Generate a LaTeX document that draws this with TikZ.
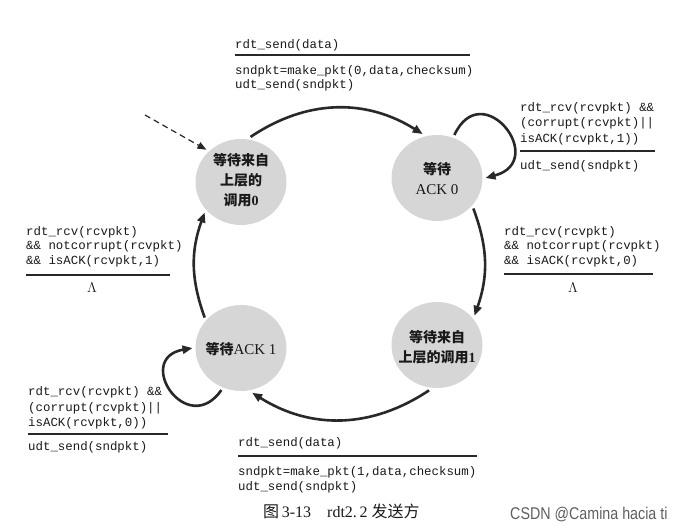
\documentclass[tikz,border=0pt]{standalone}
\usepackage{fontspec}
\setmainfont{Liberation Serif}
\setmonofont{Liberation Mono}
\setsansfont{Liberation Sans}
\newfontfamily\cjk{Noto Sans CJK SC}
\usetikzlibrary{arrows.meta,shapes.geometric}
\definecolor{ink}{RGB}{40,40,40}
\definecolor{txt}{RGB}{25,25,25}
\definecolor{statefill}{RGB}{214,214,214}
\definecolor{wmark}{RGB}{95,95,95}
\newcommand{\zhb}[1]{{\cjk\bfseries #1}}
\newcommand{\zhr}[1]{{\cjk #1}}
\begin{document}
\begin{tikzpicture}[x=1pt,y=1pt,
  state/.style={ellipse, fill=statefill, minimum width=91pt, minimum height=86pt, inner sep=0pt, outer sep=3pt},
  statetext/.style={align=center, inner sep=0pt, font=\fontsize{14}{20}\selectfont, text=txt},
  trans/.style={draw=ink, line width=2.6pt, -{Triangle[length=10pt,width=8pt]}},
  lbl/.style={anchor=base west, inner sep=0pt, text=txt},
  monoA/.style={font=\ttfamily\fontsize{12.4}{15.5}\selectfont},
  monoB/.style={font=\ttfamily\fontsize{12.4}{14.5}\selectfont},
  rulel/.style={draw=ink, line width=1.4pt}
]
\useasboundingbox (0,0) rectangle (676,527);

% states
\node[state] (S0) at (241,345) {};
\node[state] (S1) at (437,349) {};
\node[state] (S2) at (437,182) {};
\node[state] (S3) at (241,179) {};
\node[statetext] (S0t) at (241,347) {\zhb{等待来自}\\\zhb{上层的}\\\zhb{调用}\textbf{0}};
\node[statetext] (S1t) at (437,348) {\zhb{等待}\\{\fontsize{15}{20}\selectfont ACK 0}};
\node[statetext] (S2t) at (437,180) {\zhb{等待来自}\\\zhb{上层的调用}\textbf{1}};
\node[statetext] (S3t) at (241,178) {\zhb{等待}{\fontsize{15}{20}\selectfont ACK 1}};

% transitions
\draw[trans] (S0.78) to[bend left=33] (S1.108);
\draw[trans] (S1.-40) to[bend left=20] (S2.38);
\draw[trans] (S2.-100) to[bend left=33] (S3.-76);
\draw[trans] (S3.140) to[bend left=20] (S0.-140);
\draw[trans] (S1.68) to[out=65,in=15,distance=66pt] (S1.0);
\draw[trans] (S3.-115) to[out=235,in=190,distance=60pt] (S3.180);
\coordinate (init) at (145,412);
\draw[draw=ink, line width=1.2pt, dash pattern=on 6pt off 4pt, -{Triangle[length=9pt,width=7pt]}] (init) -- (S0.137);

% top label
\node[lbl,monoA] (Ta) at (235,478.5) {rdt\_send(data)};
\draw[rulel] (235,472) -- (470,472);
\node[lbl,monoB] (Tb) at (235,452.5) {\begin{tabular}[t]{@{}l@{}}sndpkt=make\_pkt(0,data,checksum)\\udt\_send(sndpkt)\end{tabular}};

% S1 self loop label
\node[lbl,monoA] (Ra) at (520,415.5) {\begin{tabular}[t]{@{}l@{}}rdt\_rcv(rcvpkt) \&\&\\(corrupt(rcvpkt)||\\isACK(rcvpkt,1))\end{tabular}};
\draw[rulel] (520,376) -- (655,376);
\node[lbl,monoA] (Rb) at (520,357.5) {udt\_send(sndpkt)};

% left label
\node[lbl,monoB] (La) at (26,291.5) {\begin{tabular}[t]{@{}l@{}}rdt\_rcv(rcvpkt)\\\&\& notcorrupt(rcvpkt)\\\&\& isACK(rcvpkt,1)\end{tabular}};
\draw[rulel] (26,252) -- (170,252);
\node[text=txt, font=\fontsize{15}{16}\selectfont] (Lb) at (92,239) {$\Lambda$};

% right label
\node[lbl,monoB] (Ma) at (504,291.5) {\begin{tabular}[t]{@{}l@{}}rdt\_rcv(rcvpkt)\\\&\& notcorrupt(rcvpkt)\\\&\& isACK(rcvpkt,0)\end{tabular}};
\draw[rulel] (504,253) -- (653,253);
\node[text=txt, font=\fontsize{15}{16}\selectfont] (Mb) at (573,239) {$\Lambda$};

% S3 self loop label
\node[lbl,monoA] (Ka) at (28,131.5) {\begin{tabular}[t]{@{}l@{}}rdt\_rcv(rcvpkt) \&\&\\(corrupt(rcvpkt)||\\isACK(rcvpkt,0))\end{tabular}};
\draw[rulel] (28,93) -- (168,93);
\node[lbl,monoA] (Kb) at (28,76.5) {udt\_send(sndpkt)};

% bottom label
\node[lbl,monoA] (Ba) at (238,80.5) {rdt\_send(data)};
\draw[rulel] (238,71) -- (477,71);
\node[lbl,monoB] (Bb) at (238,51.5) {\begin{tabular}[t]{@{}l@{}}sndpkt=make\_pkt(1,data,checksum)\\udt\_send(sndpkt)\end{tabular}};

% caption and watermark
\node[lbl, font=\fontsize{16}{18}\selectfont] (cap) at (263,10) {\zhr{图}\,3-13\quad rdt2.\,2 \zhr{发送方}};
\node[lbl, text=wmark, font=\sffamily\fontsize{17}{19}\selectfont] (wm) at (510,8) {\scalebox{0.84}[1]{CSDN @Camina hacia ti}};
\end{tikzpicture}
\end{document}
